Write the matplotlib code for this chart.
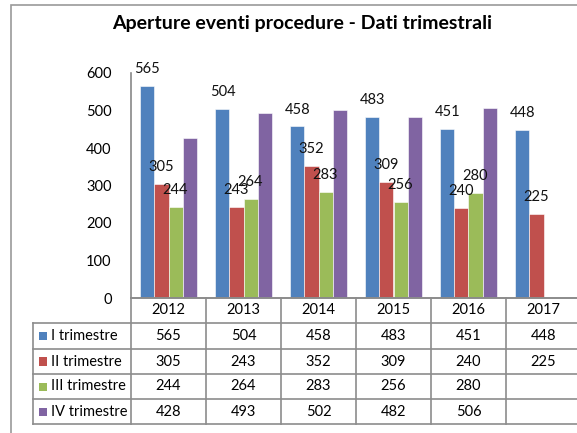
import matplotlib
matplotlib.use("Agg")
import matplotlib.pyplot as plt
import matplotlib.transforms as mtransforms
from matplotlib.patches import Rectangle
from matplotlib.lines import Line2D
import numpy as np

plt.rcParams['font.family'] = ['Lato', 'DejaVu Sans']

years = ["2012", "2013", "2014", "2015", "2016", "2017"]
series_names = ["I trimestre", "II trimestre", "III trimestre", "IV trimestre"]
q1 = [565, 504, 458, 483, 451, 448]
q2 = [305, 243, 352, 309, 240, 225]
q3 = [244, 264, 283, 256, 280, None]
q4 = [428, 493, 502, 482, 506, None]
series = [q1, q2, q3, q4]
colors = ["#4F81BD", "#C0504D", "#9BBB59", "#8064A2"]
labeled = [True, True, True, False]
title = "Aperture eventi procedure - Dati trimestrali"
yticks = [0, 100, 200, 300, 400, 500, 600]

W, H = 577, 433
fig = plt.figure(figsize=(W / 100, H / 100), dpi=100)

def fx(px):
    return px / W

def fy(py):
    return 1 - py / H

# outer frame
fig.patches.append(Rectangle((fx(11), fy(440)), fx(600), fy(5) - fy(440),
                             transform=fig.transFigure, fill=False,
                             edgecolor="#9a9a9a", lw=1.2))

ax_left, ax_right, ax_top, ax_bottom = 131, 581, 73, 298
ax = fig.add_axes([fx(ax_left), fy(ax_bottom), fx(ax_right - ax_left), fy(ax_top) - fy(ax_bottom)])
ax.set_xlim(-0.5, len(years) - 0.5)
ax.set_ylim(0, 600)
ax.set_yticks(yticks)
ax.set_xticks([])
ax.tick_params(axis='y', length=0, labelsize=10.5, pad=14)
for sp in ["top", "right"]:
    ax.spines[sp].set_visible(False)
for sp in ["left", "bottom"]:
    ax.spines[sp].set_color("#888888")
    ax.spines[sp].set_linewidth(1.2)
ax.patch.set_alpha(0)

bw = 0.187
x = np.arange(len(years))
for i, (vals, c) in enumerate(zip(series, colors)):
    off = (i - 1.5) * bw
    for j, v in enumerate(vals):
        if v is None:
            continue
        ax.bar(x[j] + off, v, width=bw, color=c, edgecolor="white", linewidth=0.4)
        if labeled[i]:
            ax.annotate(str(v), (x[j] + off, v), xytext=(0, 12), textcoords="offset points",
                        ha="center", va="center", fontsize=10.5, color="#111111",
                        annotation_clip=False)

fig.text(fx(302), fy(23), title, ha="center", va="center", fontsize=14, fontweight="bold")

# data table below axis
bt = mtransforms.blended_transform_factory(ax.transData, fig.transFigure)
row_y = [298, 323, 349, 374, 399, 424]
lc = "#8c8c8c"
lw = 1.2
# vertical lines for data columns
for k in range(len(years) + 1):
    xx = k - 0.5
    fig.add_artist(Line2D([xx, xx], [fy(298), fy(424)], transform=bt, color=lc, lw=lw))
# horizontal lines
for r, yy in enumerate(row_y):
    x0 = 33 if r >= 1 else ax_left
    fig.add_artist(Line2D([fx(x0), fx(ax_right)], [fy(yy), fy(yy)], transform=fig.transFigure, color=lc, lw=lw))
fig.add_artist(Line2D([fx(33), fx(33)], [fy(323), fy(424)], transform=fig.transFigure, color=lc, lw=lw))

# header
for j, yr in enumerate(years):
    ax.text(j, fy((298 + 323) / 2), yr, transform=bt, ha="center", va="center", fontsize=10.5)
# rows
for i, (name, vals, c) in enumerate(zip(series_names, series, colors)):
    yc = (row_y[i + 1] + row_y[i + 2]) / 2
    fig.patches.append(Rectangle((fx(39), fy(yc + 4)), fx(8), fy(yc - 4) - fy(yc + 4),
                                 transform=fig.transFigure, facecolor=c, edgecolor="none"))
    fig.text(fx(51), fy(yc), name, ha="left", va="center", fontsize=10.5)
    for j, v in enumerate(vals):
        if v is None:
            continue
        ax.text(j, fy(yc), str(v), transform=bt, ha="center", va="center", fontsize=10.5)

fig.savefig("out.png", dpi=100)
